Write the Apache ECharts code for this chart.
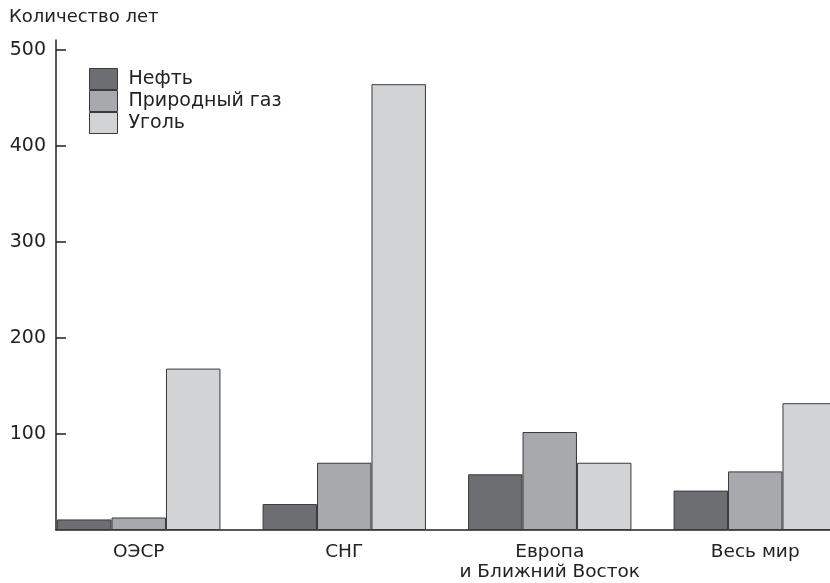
<!DOCTYPE html>
<html>
<head>
<meta charset="utf-8">
<script src="https://cdn.jsdelivr.net/npm/echarts@6/dist/echarts.min.js"></script>
<style>
html,body{margin:0;padding:0;background:#fff;}
#c{width:830px;height:583px;}
</style>
</head>
<body>
<div id="c"></div>
<script>
var categories = ['ОЭСР', 'СНГ', 'Европа\nи Ближний Восток', 'Весь мир'];
var seriesNames = ['Нефть', 'Природный газ', 'Уголь'];
var oil = [11, 27, 58, 41];
var gas = [13, 70, 102, 61];
var coal = [168, 464, 70, 132];
var yTicks = [100, 200, 300, 400, 500];
var yTitle = 'Количество лет';

var colors = ['#6d6e72', '#a8a9ac', '#d2d3d5'];
var font = 'DejaVu Sans, Liberation Sans, Arial, sans-serif';
var textColor = '#222';

var chart = echarts.init(document.getElementById('c'), null, {renderer: 'canvas'});

function bar(name, data, i) {
  return {
    name: name, type: 'bar', data: data,
    xAxisIndex: 1, yAxisIndex: 1,
    barGap: '0%', barCategoryGap: '20.5%',
    itemStyle: {color: colors[i], borderColor: '#3a3a3a', borderWidth: 1},
    emphasis: {disabled: true},
    animation: false
  };
}

chart.setOption({
  animation: false,
  backgroundColor: '#fff',
  title: {
    text: yTitle, left: 9, top: 8, padding: 0,
    textStyle: {fontFamily: font, fontSize: 18, fontWeight: 'normal', color: textColor}
  },
  legend: {
    orient: 'vertical', left: 89, top: 68, padding: 0,
    itemWidth: 28, itemHeight: 21, itemGap: 0,
    icon: 'rect',
    data: seriesNames,
    itemStyle: {borderWidth: 1, borderColor: '#3a3a3a'},
    textStyle: {fontFamily: font, fontSize: 19, lineHeight: 21, color: textColor, padding: [0, 0, 0, 6]}
  },
  grid: [
    {left: 56, right: 0, top: 40, bottom: 53, outerBoundsMode: 'none', containLabel: false},
    {left: 36, width: 822, top: 40, bottom: 53, outerBoundsMode: 'none', containLabel: false}
  ],
  xAxis: [
    {
      gridIndex: 0, type: 'category', data: [''],
      axisLine: {show: true, lineStyle: {color: '#222', width: 1.5}},
      axisTick: {show: false}, axisLabel: {show: false}, splitLine: {show: false}
    },
    {
      gridIndex: 1, type: 'category', data: categories,
      axisLine: {show: false}, axisTick: {show: false},
      axisLabel: {interval: 0, fontFamily: font, fontSize: 18.5, color: textColor, margin: 12, lineHeight: 20}
    }
  ],
  yAxis: [
    {
      gridIndex: 0, type: 'value', min: 0, max: 510,
      axisLine: {show: true, lineStyle: {color: '#222', width: 1.5}},
      axisTick: {show: true, inside: true, length: 10, customValues: yTicks, lineStyle: {color: '#222', width: 1.5}},
      axisLabel: {customValues: yTicks, fontFamily: font, fontSize: 19, color: textColor, margin: 10},
      splitLine: {show: false}
    },
    {
      gridIndex: 1, type: 'value', min: 0, max: 510, show: false,
      splitLine: {show: false}
    }
  ],
  series: [bar(seriesNames[0], oil, 0), bar(seriesNames[1], gas, 1), bar(seriesNames[2], coal, 2)]
});
</script>
</body>
</html>
